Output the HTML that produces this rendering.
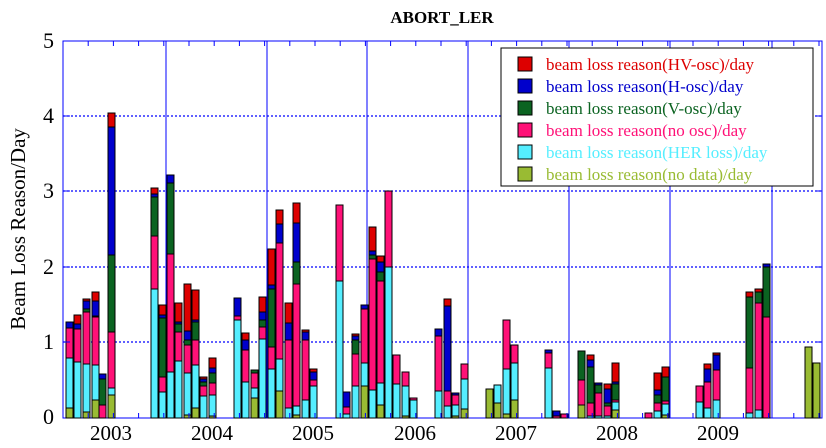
<!DOCTYPE html>
<html><head><meta charset="utf-8"><style>
body{margin:0;background:#fff;width:826px;height:448px;overflow:hidden}
svg{display:block;font-family:"Liberation Serif",serif}
</style></head><body>
<svg id="s" width="826" height="448" viewBox="0 0 826 448">
<text x="442" y="23" text-anchor="middle" font-size="17" font-weight="bold">ABORT_LER</text>
<text transform="translate(25,229) rotate(-90)" text-anchor="middle" font-size="21">Beam Loss Reason/Day</text>
<g font-size="22" text-anchor="end">
<text x="54" y="48">5</text><text x="54" y="123">4</text><text x="54" y="198">3</text><text x="54" y="274">2</text><text x="54" y="349">1</text><text x="54" y="424">0</text>
</g>
<g font-size="21" text-anchor="middle">
<text x="111" y="440">2003</text><text x="212" y="440">2004</text><text x="313" y="440">2005</text><text x="415" y="440">2006</text><text x="516" y="440">2007</text><text x="617" y="440">2008</text><text x="718" y="440">2009</text>
</g>
<g stroke="#0000ff" stroke-width="1.2" stroke-dasharray="2,2">
<line x1="63" x2="822" y1="342" y2="342"/><line x1="63" x2="822" y1="267" y2="267"/><line x1="63" x2="822" y1="191" y2="191"/><line x1="63" x2="822" y1="116" y2="116"/>
</g>
<g stroke="#0000ff" stroke-width="1">
<line x1="166" x2="166" y1="41" y2="418"/><line x1="267" x2="267" y1="41" y2="418"/><line x1="367" x2="367" y1="41" y2="418"/><line x1="468" x2="468" y1="41" y2="418"/><line x1="569" x2="569" y1="41" y2="418"/><line x1="670" x2="670" y1="41" y2="418"/><line x1="772" x2="772" y1="41" y2="418"/>
<rect x="63" y="41" width="759" height="377" fill="none"/>
</g>
<g id="bars" stroke="#000" stroke-width="1"></g>
<g id="ticks" stroke="#0000ff" stroke-width="1"></g>
<rect x="501" y="48" width="312" height="138" fill="#fff" stroke="#000" stroke-width="1"/>
<g stroke="#000" stroke-width="1">
<rect x="518" y="57" width="14" height="14" fill="#dd0000"/>
<rect x="518" y="79" width="14" height="14" fill="#0000cc"/>
<rect x="518" y="101" width="14" height="14" fill="#0b6321"/>
<rect x="518" y="123" width="14" height="14" fill="#ff1177"/>
<rect x="518" y="145" width="14" height="14" fill="#55eeff"/>
<rect x="518" y="167" width="14" height="14" fill="#99bb33"/>
</g>
<g font-size="17">
<text x="546" y="70" fill="#dd0000">beam loss reason(HV-osc)/day</text>
<text x="546" y="92" fill="#0000cc">beam loss reason(H-osc)/day</text>
<text x="546" y="114" fill="#0b6321">beam loss reason(V-osc)/day</text>
<text x="546" y="136" fill="#ff1177">beam loss reason(no osc)/day</text>
<text x="546" y="158" fill="#55eeff">beam loss reason(HER loss)/day</text>
<text x="546" y="180" fill="#99bb33">beam loss reason(no data)/day</text>
</g>
</svg>
<script>
var C=["#99bb33","#55eeff","#ff1177","#0b6321","#0000cc","#dd0000"];
var B=[
[66,408,358,328,0,322,0],[74,0,362,329,0,324,315],[83,412,364,312,309,301,299],[92,400,365,317,316,301,292],
[99,0,0,405,379,374,0],[108,395,388,332,255,127,113],
[151,0,289,236,197,194,188],[159,0,392,377,318,315,305],[167,0,372,254,183,175,0],[175,0,361,332,324,322,303],
[184,415,373,345,340,331,284],[192,408,365,340,322,320,290],[200,0,396,386,382,379,377],[209,416,395,383,373,368,358],
[234,0,320,316,0,298,0],[242,0,382,350,0,340,333],[251,398,388,373,370,0,0],[259,0,339,327,320,312,297],
[268,0,369,347,289,285,249],[276,391,359,243,0,224,210],[285,0,408,340,0,323,303],[293,415,406,284,262,223,203],
[302,0,400,340,0,332,330],[310,0,386,380,0,372,369],
[336,0,281,205,0,0,0],[343,0,414,407,0,392,0],[352,0,386,354,340,336,334],[361,386,363,309,0,305,0],
[369,0,390,259,255,251,227],[377,405,383,281,272,262,256],[385,0,267,191,0,0,0],[393,0,384,355,0,0,0],
[402,416,386,372,0,0,0],[410,0,400,398,0,0,0],
[435,0,391,336,0,329,0],[444,0,406,391,0,306,299],[452,416,405,395,0,393,0],[461,409,379,364,0,0,0],
[486,389,0,0,0,0,0],[494,403,385,0,0,0,0],[503,414,369,320,0,0,0],[511,400,363,345,0,0,0],
[545,0,368,353,0,350,0],[553,0,0,416,0,411,0],[561,0,0,414,0,0,0],
[578,405,0,380,351,0,0],[587,0,416,403,367,360,355],[595,0,416,393,385,383,0],[604,0,416,406,403,389,384],
[612,410,402,400,384,382,363],
[645,0,0,413,0,0,0],[654,0,411,403,395,390,373],[662,415,404,401,377,0,367],
[696,0,402,386,0,0,0],[704,0,408,382,0,369,364],[713,0,400,370,0,355,353],
[746,0,413,368,297,0,292],[755,0,410,303,292,0,289],[763,0,0,317,267,264,0],
[805,347,0,0,0,0,0],[813,363,0,0,0,0,0]];
var g=document.getElementById("bars"),h="";
B.forEach(function(b){var base=418;for(var i=0;i<6;i++){var t=b[i+1];if(t&&t<base){h+='<rect x="'+b[0]+'" y="'+t+'" width="7" height="'+(base-t)+'" fill="'+C[i]+'"/>';base=t;}}});
g.innerHTML=h;
var t="";for(var x=63+25.2;x<822;x+=25.2){t+='<line x1="'+x.toFixed(1)+'" x2="'+x.toFixed(1)+'" y1="418" y2="413"/>';t+='<line x1="'+x.toFixed(1)+'" x2="'+x.toFixed(1)+'" y1="41" y2="46"/>';}
[342,267,191,116].forEach(function(y){t+='<line x1="63" x2="70" y1="'+y+'" y2="'+y+'"/><line x1="815" x2="822" y1="'+y+'" y2="'+y+'"/>';});
document.getElementById("ticks").innerHTML=t;
</script>
</body></html>
